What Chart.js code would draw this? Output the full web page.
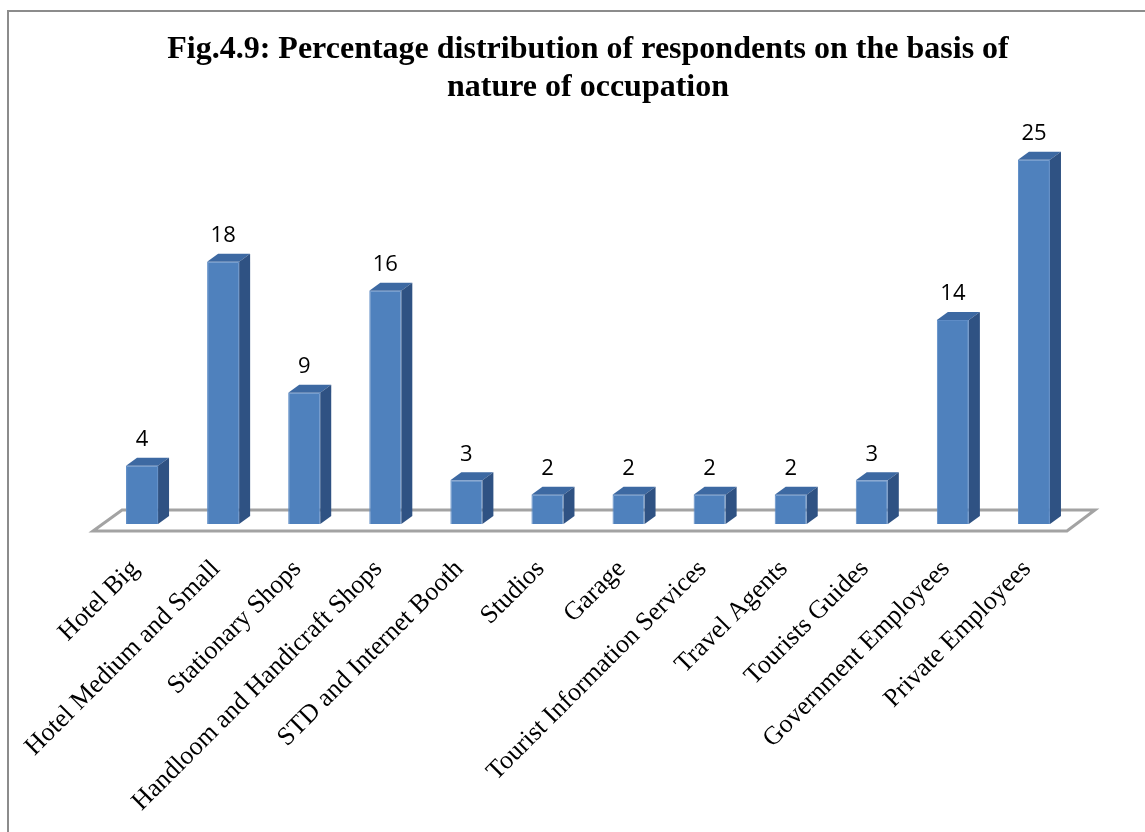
<!DOCTYPE html>
<html>
<head>
<meta charset="utf-8">
<script src="https://cdn.jsdelivr.net/npm/chart.js@4/dist/chart.umd.min.js"></script>
<style>
  html, body { margin: 0; padding: 0; background: #fff; overflow: hidden; }
  canvas { display: block; }
</style>
</head>
<body>
<canvas id="myChart" width="1145" height="832"></canvas>
<script>
// occupation categories and share of respondents (%)
const categories = [
    "Hotel Big",
    "Hotel Medium and Small",
    "Stationary Shops",
    "Handloom and Handicraft Shops",
    "STD and Internet Booth",
    "Studios",
    "Garage",
    "Tourist Information Services",
    "Travel Agents",
    "Tourists Guides",
    "Government Employees",
    "Private Employees"
];
const percentages = [4, 18, 9, 16, 3, 2, 2, 2, 2, 3, 14, 25];

const titleLines = [
    "Fig.4.9: Percentage distribution of respondents on the basis of",
    "nature of occupation"
];

// depth of the fake 3D bars
const depthX = 11;
const depthY = 8;

// page frame + white background
const gr_frame = {
    id: 'gr_frame',
    beforeDraw(chart) {
        const c = chart.ctx;
        c.save();
        c.fillStyle = '#fff';
        c.fillRect(0, 0, chart.width, chart.height);
        c.strokeStyle = '#8c8c8c';
        c.lineWidth = 2;
        c.beginPath();
        c.moveTo(8, chart.height);
        c.lineTo(8, 11);
        c.lineTo(chart.width, 11);
        c.stroke();
        c.restore();
    }
};

// floor plane under the bars
const gr_floor = {
    id: 'gr_floor',
    beforeDatasetsDraw(chart) {
        const xs = chart.scales.x, ys = chart.scales.y;
        const y0 = ys.getPixelForValue(0);
        const first = xs.getPixelForTick(0);
        const last = xs.getPixelForTick(categories.length - 1);
        const c = chart.ctx;
        c.save();
        c.strokeStyle = '#a3a3a3';
        c.lineWidth = 3;
        c.lineJoin = 'miter';
        c.beginPath();
        c.moveTo(first - 49, y0 + 7);
        c.lineTo(first - 20, y0 - 14);
        c.lineTo(last + 61, y0 - 14);
        c.lineTo(last + 33, y0 + 7);
        c.closePath();
        c.stroke();
        c.restore();
    }
};

// top and side faces of each bar, plus the value above it
const gr_bars3d = {
    id: 'gr_bars3d',
    afterDatasetsDraw(chart) {
        const c = chart.ctx;
        const meta = chart.getDatasetMeta(0);
        c.save();
        meta.data.forEach((bar, i) => {
            const p = bar.getProps(['x', 'y', 'base', 'width'], true);
            const l = p.x - p.width / 2, r = p.x + p.width / 2;
            // top
            c.fillStyle = '#3d69a2';
            c.beginPath();
            c.moveTo(l, p.y);
            c.lineTo(l + depthX, p.y - depthY);
            c.lineTo(r + depthX, p.y - depthY);
            c.lineTo(r, p.y);
            c.closePath();
            c.fill();
            // side
            c.fillStyle = '#2f5283';
            c.beginPath();
            c.moveTo(r, p.y);
            c.lineTo(r + depthX, p.y - depthY);
            c.lineTo(r + depthX, p.base - depthY);
            c.lineTo(r, p.base);
            c.closePath();
            c.fill();
            // value label
            c.fillStyle = '#000';
            c.font = '22px "Open Sans", sans-serif';
            c.textAlign = 'center';
            c.textBaseline = 'middle';
            c.fillText(String(percentages[i]), p.x, p.y - depthY - 18);
        });
        c.restore();
    }
};

const gr_config = {
    type: 'bar',
    data: {
        labels: categories,
        datasets: [{
            label: 'Percentage',
            data: percentages,
            backgroundColor: '#4f81bd',
            borderColor: '#5e8cc6',
            borderWidth: 1,
            categoryPercentage: 1,
            barPercentage: 0.395
        }]
    },
    options: {
        responsive: false,
        animation: false,
        devicePixelRatio: 1,
        layout: {
            padding: { top: 0, left: 101.5, right: 70.5, bottom: 8 }
        },
        plugins: {
            legend: { display: false },
            tooltip: { enabled: false },
            title: {
                display: true,
                text: titleLines,
                color: '#000',
                font: { family: '"Liberation Serif", "Times New Roman", serif', size: 32, weight: 'bold', lineHeight: 1.19 },
                padding: { top: 31, bottom: 38 }
            }
        },
        scales: {
            x: {
                offset: true,
                grid: { display: false, drawTicks: false },
                border: { display: false },
                ticks: {
                    autoSkip: false,
                    minRotation: 45,
                    maxRotation: 45,
                    padding: 30,
                    labelOffset: -7,
                    color: '#000',
                    font: { family: '"Liberation Serif", "Times New Roman", serif', size: 26 }
                },
                afterFit(scale) { scale.height = 300; }
            },
            y: {
                display: false,
                min: 0,
                max: 26
            }
        }
    },
    plugins: [gr_frame, gr_floor, gr_bars3d]
};

var ctx = document.getElementById('myChart');
var myChart = new Chart(ctx, gr_config);
</script>
</body>
</html>
